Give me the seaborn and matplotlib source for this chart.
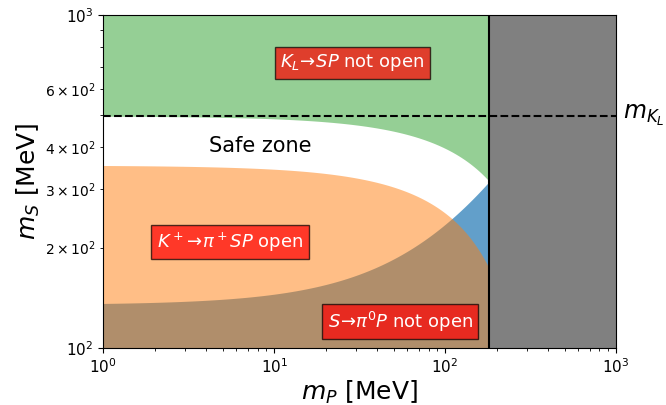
import numpy as np
import matplotlib
matplotlib.use("Agg")
import matplotlib.pyplot as plt
import seaborn as sns

# kinematic thresholds in MeV
m_KL = 497.6          # K_L mass (dashed line)
m_K_minus_pi = 354.1  # m_K+ - m_pi+
m_pi0 = 135.0         # pi0 mass
m_P_cut = (m_KL - m_pi0) / 2  # vertical line where the two boundaries meet

x_lim = [1, 1000]
y_lim = [100, 1000]

box_labels = [r"$K_L\!\to\! SP$ not open",
              r"$K^+\!\to\!\pi^+ SP$ open",
              r"$S\!\to\!\pi^0 P$ not open"]
box_pos = [(28.6, 718), (5.5, 208), (54.6, 120)]

sns.set_style("ticks")
plt.rcParams['font.family'] = ['DejaVu Sans']
for key in ['axes.edgecolor', 'xtick.color', 'ytick.color', 'text.color', 'axes.labelcolor']:
    plt.rcParams[key] = 'black'

fig, ax = plt.subplots(figsize=(6.66, 4.05), dpi=100)
fig.subplots_adjust(left=0.155, right=0.925, top=0.963, bottom=0.141)

m_P = np.logspace(0, np.log10(m_P_cut), 400)

# K_L -> S P not open: m_S > m_KL - m_P
ax.fill_between(m_P, m_KL - m_P, y_lim[1], color='tab:green', alpha=0.5, lw=0)
# S -> pi0 P not open: m_S < m_pi0 + m_P
ax.fill_between(m_P, y_lim[0], m_pi0 + m_P, color='tab:blue', alpha=0.7, lw=0)
# K+ -> pi+ S P open: m_S < m_K - m_pi - m_P
ax.fill_between(m_P, y_lim[0], m_K_minus_pi - m_P, color='tab:orange', alpha=0.5, lw=0)

ax.axvspan(m_P_cut, x_lim[1], color='gray', lw=0)
ax.axvline(m_P_cut, color='k', lw=1.5)
ax.axhline(m_KL, color='k', ls='--', lw=1.5)
ax.text(1100, m_KL, r"$m_{K_L}$", fontsize=17, va='center', ha='left')

for lab, (px, py) in zip(box_labels, box_pos):
    ax.text(px, py, lab, color='white', fontsize=13, ha='center', va='center',
            bbox=dict(facecolor='red', edgecolor='black', alpha=0.7, pad=4))

ax.text(8.3, 404, "Safe zone", fontsize=15, ha='center', va='center')

ax.set_xscale('log')
ax.set_yscale('log')
ax.set_xlim(x_lim)
ax.set_ylim(y_lim)
ax.set_xlabel(r"$m_P$ [MeV]", fontsize=18, labelpad=2)
ax.set_ylabel(r"$m_S$ [MeV]", fontsize=18, labelpad=2)
ax.tick_params(labelsize=11)

fig.savefig("out.png", dpi=100)
